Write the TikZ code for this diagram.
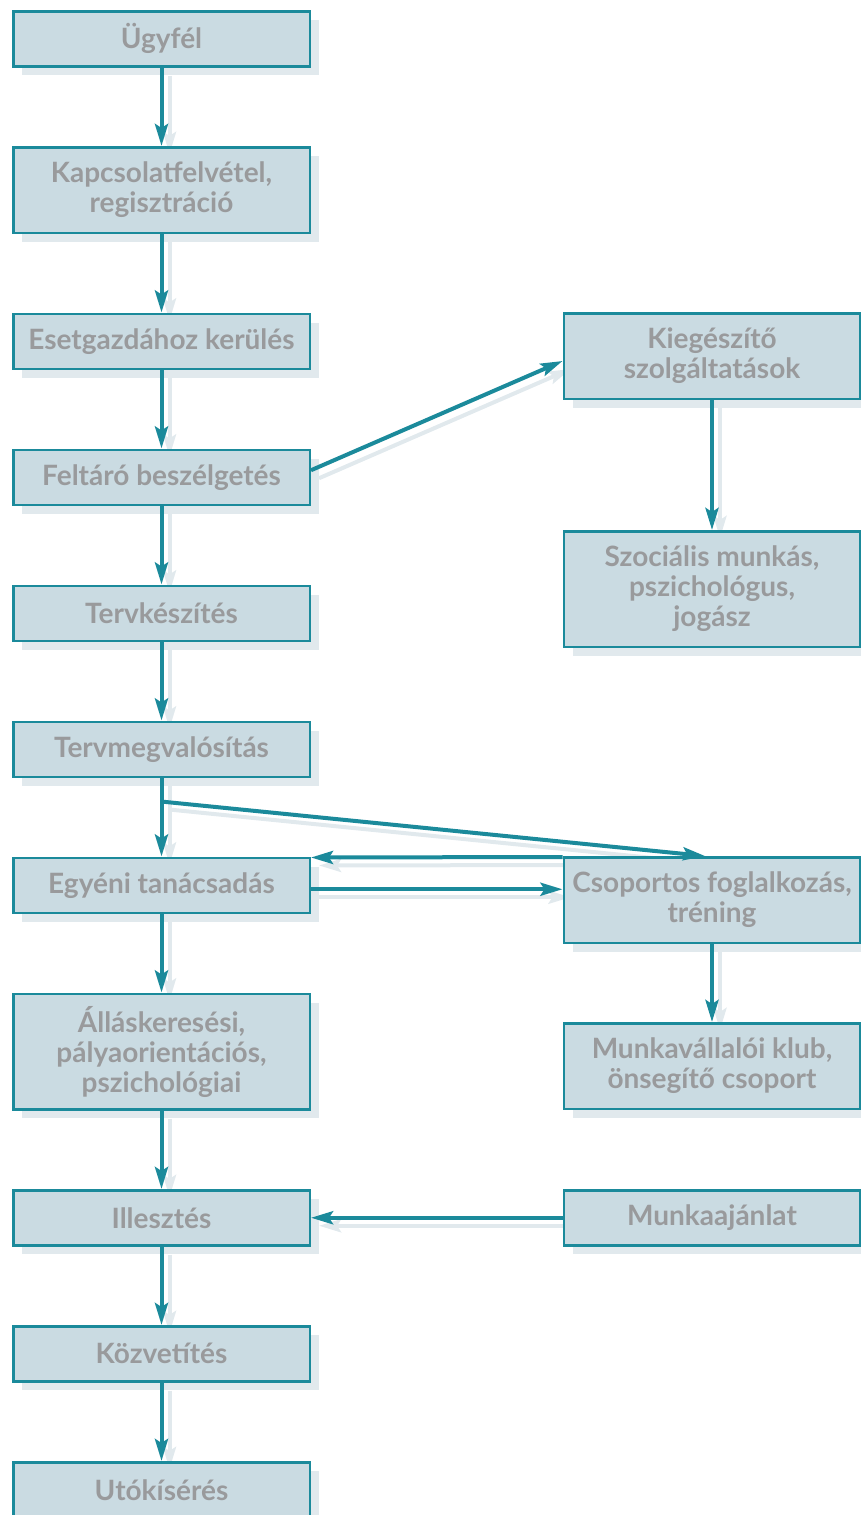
\documentclass[tikz,border=0pt]{standalone}
\usepackage{fontspec}
\setmainfont{Lato}
\usetikzlibrary{
  arrows.meta,
  positioning,
  calc,
  backgrounds,
  shadows
}
\definecolor{jsTeal}{HTML}{1B8A9B}
\definecolor{jsFill}{HTML}{CADBE2}
\definecolor{jsShade}{HTML}{E1E9ED}
\definecolor{jsText}{HTML}{999A9C}
\tikzset{
  stage/.style={
    draw=jsTeal, fill=jsFill, line width=2.5pt,
    minimum width=296.5pt, minimum height=55pt, inner sep=2pt,
    text=jsText, font=\bfseries\fontsize{28}{30}\selectfont, align=center,
    drop shadow={shadow xshift=9pt, shadow yshift=-9pt, fill=jsShade, opacity=1}
  },
  stagetwo/.style={stage, minimum height=85.5pt},
  stagethree/.style={stage, minimum height=115.5pt},
  flow/.style={-{Stealth[length=22pt, width=13pt, inset=4pt]}, line width=4pt, jsTeal},
  flowshade/.style={flow, jsShade, transform canvas={shift={(8pt,-8pt)}}}
}
% all connectors, drawn once as shade and once for real
\newcommand{\joblinks}[1]{%
  \foreach \a/\b in {ugy/kapcs, kapcs/eset, eset/felt, felt/terv, terv/tmeg,
      tmeg/egy, egy/allas, allas/ill, ill/kozv, kozv/uto, kieg/szoc, csop/mkv}
    \draw[#1] (\a) -- (\b);
  \draw[#1] ([yshift=7pt]felt.east) -- ([yshift=-5pt]kieg.west);
  \draw[#1] (split) -- ([xshift=-7pt]csop.north);
  \draw[#1] ([yshift=-1pt]csop.north west) -- ([yshift=-1pt]egy.north east);
  \draw[#1] ([yshift=-4pt]egy.east) -- ([yshift=-4pt]egy.east -| csop.west);
  \draw[#1] (ajanlat) -- (ill);
}

\begin{document}
\begin{tikzpicture}[x=1pt, y=-1pt, node distance=78.5pt]
  \useasboundingbox (0,0) rectangle (861,1515);
  % left column
  \node[stage] (ugy) at (161.5,38.75) {Ügyfél};
  \node[stagetwo, below=of ugy] (kapcs) {Kapcsolatfelvétel,\\regisztráció};
  \node[stage, below=of kapcs] (eset) {Esetgazdához kerülés};
  \node[stage, below=of eset] (felt) {Feltáró beszélgetés};
  \node[stage, below=of felt] (terv) {Tervkészítés};
  \node[stage, below=of terv] (tmeg) {Tervmegvalósítás};
  \node[stage, below=of tmeg] (egy) {Egyéni tanácsadás};
  \node[stagethree, below=of egy] (allas) {Álláskeresési,\\pályaorientációs,\\pszichológiai};
  \node[stage, below=of allas] (ill) {Illesztés};
  \node[stage, below=of ill] (kozv) {Közvetítés};
  \node[stage, below=of kozv] (uto) {Utókísérés};
  % right column
  \node[stagetwo, anchor=north] (kieg) at (712,312) {Kiegészítő\\szolgáltatások};
  \node[stagethree, anchor=north] (szoc) at (712,530) {Szociális munkás,\\pszichológus,\\jogász};
  \node[stagetwo, anchor=north] (csop) at (712,856) {Csoportos foglalkozás,\\tréning};
  \node[stagetwo, anchor=north] (mkv) at (712,1022) {Munkavállalói klub,\\önsegítő csoport};
  \node[stage, anchor=north] (ajanlat) at (712,1189) {Munkaajánlat};
  \coordinate (split) at ($(tmeg.south)!0.3!(egy.north)$);
  \begin{scope}[on background layer]
    \joblinks{flowshade}
  \end{scope}
  \joblinks{flow}
\end{tikzpicture}
\end{document}
